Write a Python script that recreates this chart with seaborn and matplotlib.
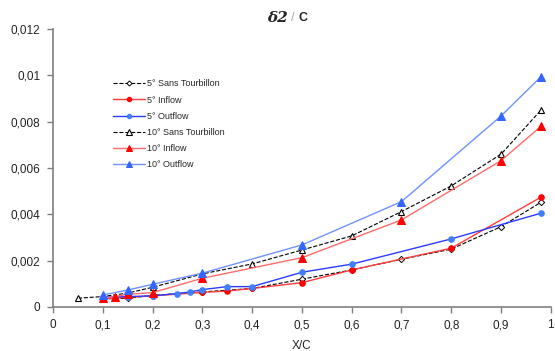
import numpy as np
import pandas as pd
import seaborn as sns
import matplotlib.pyplot as plt
from matplotlib.ticker import FuncFormatter

sns.set_style("white")
plt.rcParams['font.family'] = ['Liberation Sans', 'DejaVu Sans']

# data
x_s5 = [0.1, 0.15, 0.2, 0.3, 0.4, 0.5, 0.6, 0.7, 0.8, 0.9, 0.98]
y_s5 = [0.00035, 0.00038, 0.0005, 0.00065, 0.0008, 0.0012, 0.0016, 0.00206, 0.0025, 0.00347, 0.00452]

x_i5 = [0.1, 0.15, 0.2, 0.3, 0.35, 0.4, 0.5, 0.6, 0.8, 0.98]
y_i5 = [0.00035, 0.00042, 0.00048, 0.00063, 0.00069, 0.0008, 0.00105, 0.0016, 0.00254, 0.00474]

x_o5 = [0.1, 0.15, 0.2, 0.25, 0.275, 0.3, 0.35, 0.4, 0.5, 0.6, 0.8, 0.98]
y_o5 = [0.00042, 0.00045, 0.00048, 0.00058, 0.00065, 0.00075, 0.00088, 0.00088, 0.0015, 0.00185, 0.00294, 0.00405]

x_s10 = [0.05, 0.1, 0.15, 0.2, 0.3, 0.4, 0.5, 0.6, 0.7, 0.8, 0.9, 0.98]
y_s10 = [0.00038, 0.00045, 0.0006, 0.00085, 0.00143, 0.00186, 0.00246, 0.00307, 0.00412, 0.00523, 0.0066, 0.0085]

x_i10 = [0.1, 0.125, 0.15, 0.2, 0.3, 0.5, 0.7, 0.9, 0.98]
y_i10 = [0.00038, 0.00045, 0.00055, 0.00062, 0.00124, 0.00213, 0.00376, 0.00632, 0.0078]

x_o10 = [0.1, 0.15, 0.2, 0.3, 0.5, 0.7, 0.9, 0.98]
y_o10 = [0.00052, 0.00073, 0.00098, 0.00146, 0.00268, 0.00455, 0.00825, 0.00994]

x_ticks = [0, 0.1, 0.2, 0.3, 0.4, 0.5, 0.6, 0.7, 0.8, 0.9, 1]
y_ticks = [0, 0.002, 0.004, 0.006, 0.008, 0.01, 0.012]

fig = plt.figure(figsize=(5.55, 3.51), dpi=100)
ax = fig.add_axes([0.0955, 0.1254, 0.897, 0.7916])

series = [
    ("5° Sans Tourbillon", x_s5, y_s5, dict(color='black', linestyle='--', linewidth=0.8, dashes=(3, 2),
                                            marker='D', markersize=3.2, markerfacecolor='white',
                                            markeredgecolor='black', markeredgewidth=0.7)),
    ("5° Inflow", x_i5, y_i5, dict(color='#ff3b3b', linewidth=1.0, marker='o', markersize=4,
                                   markerfacecolor='#ff0000', markeredgecolor='#ff0000')),
    ("5° Outflow", x_o5, y_o5, dict(color='#2a3cff', linewidth=1.0, marker='o', markersize=4,
                                    markerfacecolor='#3f7fff', markeredgecolor='#3f7fff')),
    ("10° Sans Tourbillon", x_s10, y_s10, dict(color='black', linestyle='--', linewidth=0.8, dashes=(3, 2),
                                               marker='^', markersize=5, markerfacecolor='white',
                                               markeredgecolor='black', markeredgewidth=0.8)),
    ("10° Inflow", x_i10, y_i10, dict(color='#ff6a6a', linewidth=1.0, marker='^', markersize=5.5,
                                      markerfacecolor='#ff0000', markeredgecolor='#ff0000')),
    ("10° Outflow", x_o10, y_o10, dict(color='#6f92ff', linewidth=1.0, marker='^', markersize=5.5,
                                       markerfacecolor='#3366ff', markeredgecolor='#3366ff')),
]

for label, xs, ys, style in series:
    df = pd.DataFrame({'x': xs, 'y': ys})
    sns.lineplot(data=df, x='x', y='y', ax=ax, label=label, **style)

ax.set_xlim(0, 1)
ax.set_ylim(0, 0.012)
ax.set_xticks(x_ticks)
ax.set_yticks(y_ticks)
fmt = FuncFormatter(lambda v, p: ('%g' % round(v, 4)).replace('.', ','))
ax.xaxis.set_major_formatter(fmt)
ax.yaxis.set_major_formatter(fmt)

for s in ['top', 'right']:
    ax.spines[s].set_visible(False)
for s in ['left', 'bottom']:
    ax.spines[s].set_color('#808080')
    ax.spines[s].set_linewidth(1.2)
ax.tick_params(axis='both', direction='out', length=4, width=1, color='#808080',
               labelsize=8.5, labelcolor='#222222', left=True, bottom=True, pad=5)

ax.set_xlabel('X/C', fontsize=8.5, color='#222222', labelpad=6)
ax.set_ylabel('')

fig.text(0.518, 0.95, 'δ2', fontsize=11, fontweight='bold', fontstyle='italic',
         family=['DejaVu Serif'], ha='right', va='center')
fig.text(0.528, 0.95, '/', fontsize=9, color='#aaaaaa', ha='center', va='center')
fig.text(0.538, 0.95, 'C', fontsize=9, fontweight='bold', ha='left', va='center')

ax.legend(loc='upper left', bbox_to_anchor=(0.203, 0.774), bbox_transform=fig.transFigure,
          frameon=False, fontsize=6.5, handlelength=3.6, handletextpad=0.25,
          labelspacing=0.8, borderpad=0, borderaxespad=0, markerscale=0.8)

fig.savefig('out.png', dpi=100)
